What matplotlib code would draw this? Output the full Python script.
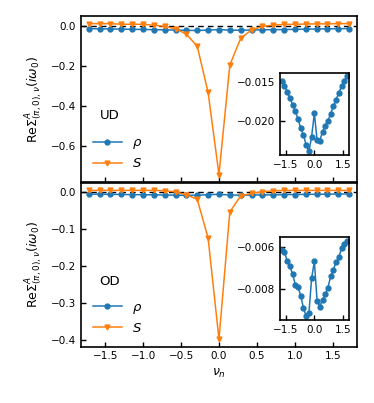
#!/usr/bin/env python3
import matplotlib
matplotlib.use("Agg")
import matplotlib.pyplot as plt

# Matsubara frequencies nu_n
nu = [-1.714, -1.571, -1.429, -1.286, -1.143, -1.000, -0.857, -0.714, -0.571,
      -0.429, -0.286, -0.143, 0.000, 0.143, 0.286, 0.429, 0.571, 0.714,
      0.857, 1.000, 1.143, 1.286, 1.429, 1.571, 1.714]

# UD
rho_ud = [-0.01487, -0.01551, -0.01628, -0.01709, -0.01799, -0.01880, -0.01979,
          -0.02098, -0.02184, -0.02312, -0.02393, -0.02205, -0.01906, -0.02248,
          -0.02256, -0.02141, -0.02064, -0.02000, -0.01915, -0.01816, -0.01731,
          -0.01645, -0.01560, -0.01496, -0.01432]
s_ud = [0.010, 0.010, 0.010, 0.007, 0.007, 0.007, 0.002, -0.003, -0.016,
        -0.042, -0.103, -0.332, -0.740, -0.195, -0.063, -0.021, -0.004, 0.003,
        0.006, 0.007, 0.008, 0.009, 0.009, 0.010, 0.010]

# OD
rho_od = [-0.00613, -0.00624, -0.00666, -0.00693, -0.00730, -0.00781, -0.00792,
          -0.00834, -0.00893, -0.00931, -0.00917, -0.00749, -0.00669, -0.00856,
          -0.00885, -0.00853, -0.00826, -0.00794, -0.00741, -0.00709, -0.00672,
          -0.00650, -0.00605, -0.00584, -0.00570]
s_od = [0.004, 0.004, 0.004, 0.004, 0.004, 0.004, 0.004, 0.003, 0.000,
        -0.008, -0.020, -0.125, -0.398, -0.054, -0.011, -0.004, 0.000, 0.003,
        0.004, 0.004, 0.004, 0.004, 0.004, 0.004, 0.004]

panels = [("UD", rho_ud, s_ud), ("OD", rho_od, s_od)]

plt.rcParams['font.size'] = 7.5
plt.rcParams['axes.linewidth'] = 1.2
plt.rcParams['xtick.direction'] = 'in'
plt.rcParams['ytick.direction'] = 'in'
plt.rcParams['xtick.major.width'] = 1.0
plt.rcParams['ytick.major.width'] = 1.0

fig = plt.figure(figsize=(3.74, 4.03), dpi=100)
ax_top = fig.add_axes([0.216, 0.548, 0.739, 0.412])
ax_bot = fig.add_axes([0.216, 0.140, 0.739, 0.406], sharex=ax_top)
ins_top = fig.add_axes([0.749, 0.615, 0.183, 0.205])
ins_bot = fig.add_axes([0.749, 0.206, 0.183, 0.206])

ylab = r"Re$\Sigma^{A}_{(\pi,0),\nu}(i\omega_0)$"

for ax, ins, (name, rho, s) in zip([ax_top, ax_bot], [ins_top, ins_bot], panels):
	ax.axhline(0, color="k", ls="--", lw=1, dashes=(4, 3), zorder=0)
	ax.plot(nu, rho, "-o", color="C0", ms=3.5, lw=1.1, label=r"$\rho$")
	ax.plot(nu, s, "-v", color="C1", ms=3.5, lw=1.1, label=r"$S$")
	ax.set_ylabel(ylab, fontsize=9)
	ax.text(0.068, 0.40, name, transform=ax.transAxes, fontsize=9.5, va="center")
	ax.legend(loc="lower left", frameon=False, fontsize=9.5, handlelength=2.2,
	          labelspacing=0.45, bbox_to_anchor=(0.0, 0.0))
	ax.tick_params(labelsize=7.5)

	ins.plot(nu, rho, "-o", color="C0", ms=3.5, lw=1.1)
	ins.set_xlim(-1.8, 1.8)
	ins.set_xticks([-1.5, 0.0, 1.5])
	ins.tick_params(labelsize=7.5)

ax_top.set_xlim(-1.82, 1.82)
ax_top.set_yticks([0.0, -0.2, -0.4, -0.6])
ax_bot.set_yticks([0.0, -0.1, -0.2, -0.3, -0.4])
ax_top.tick_params(labelbottom=False)
ax_bot.set_xlabel(r"$\nu_n$", fontsize=9)
ins_top.set_yticks([-0.015, -0.020])
ins_bot.set_yticks([-0.006, -0.008])

fig.savefig("out.png", dpi=100)
